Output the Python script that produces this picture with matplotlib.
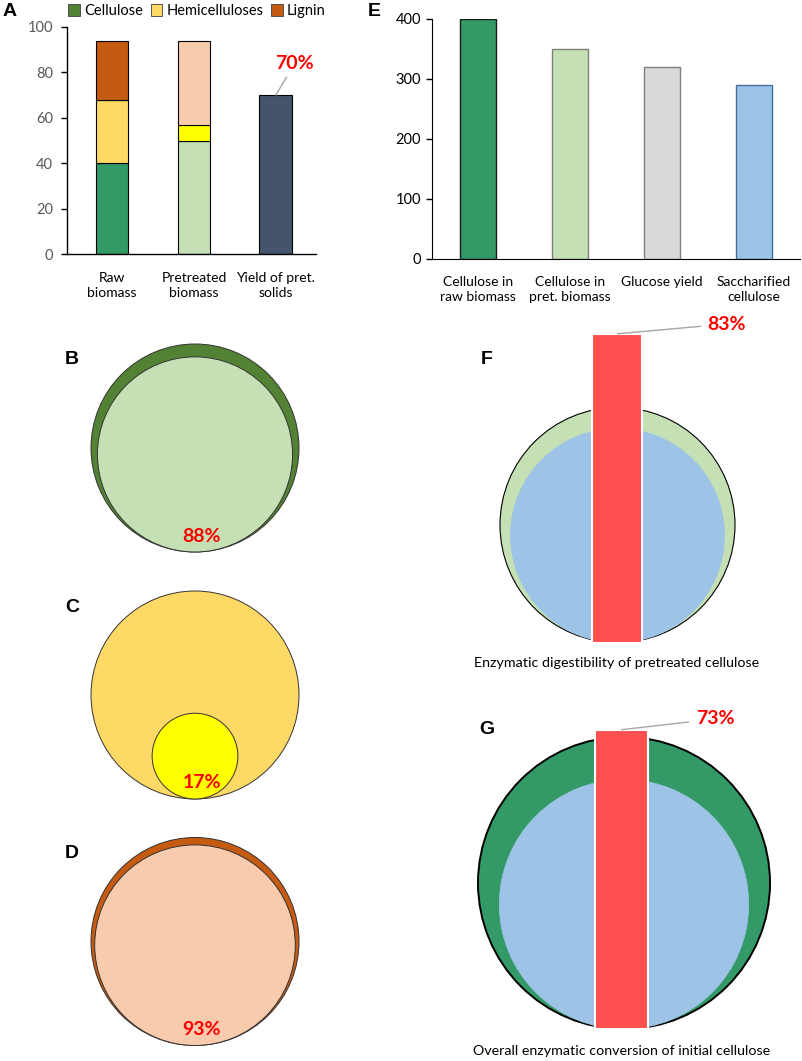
import numpy as np
import matplotlib
matplotlib.use("Agg")
import matplotlib.pyplot as plt
from matplotlib.patches import Circle, Patch

plt.rcParams['font.family'] = ['Lato', 'DejaVu Sans']

# ---- data ----
comp_names = ['Cellulose', 'Hemicelluloses', 'Lignin']
a_labels = ['Raw\nbiomass', 'Pretreated\nbiomass', 'Yield of pret.\nsolids']
raw_comp = [40, 28, 26]
pret_comp = [50, 7, 37]
yield_solids = 70

e_labels = ['Cellulose in\nraw biomass', 'Cellulose in\npret. biomass', 'Glucose yield', 'Saccharified\ncellulose']
e_values = [400, 350, 320, 290]

circle_letters = ['B', 'C', 'D']
circle_pcts = [88, 17, 93]
digest_pct = 83
overall_pct = 73

# colours
raw_colors = ['#339966', '#FFD966', '#C55A11']
pret_colors = ['#C5E0B4', '#FFFF00', '#F8CBAD']
legend_colors = ['#548235', '#FFD966', '#C55A11']
yield_color = '#44546A'
e_colors = ['#339966', '#C5E0B4', '#D9D9D9', '#9DC3E6']
e_edges = ['#1A1A1A', '#7F7F7F', '#7F7F7F', '#41719C']
circ_outer = ['#548235', '#FFD966', '#C55A11']
circ_inner = ['#C5E0B4', '#FFFF00', '#F8CBAD']
red = '#FF5050'
pct_red = '#FF0000'

W, H = 803, 1061
fig = plt.figure(figsize=(W / 100, H / 100), dpi=100)


def px_axes(left, top, right, bottom):
    return fig.add_axes([left / W, 1 - bottom / H, (right - left) / W, (bottom - top) / H])


# ---- panel A ----
axA = px_axes(67, 27, 316, 254)
x = np.arange(len(a_labels))
bw = 0.4
bottom = 0
for i in range(3):
    axA.bar(x[0], raw_comp[i], bw, bottom=bottom, color=raw_colors[i], edgecolor='black', linewidth=0.8)
    bottom += raw_comp[i]
bottom = 0
for i in range(3):
    axA.bar(x[1], pret_comp[i], bw, bottom=bottom, color=pret_colors[i], edgecolor='black', linewidth=0.8)
    bottom += pret_comp[i]
axA.bar(x[2], yield_solids, bw, color=yield_color, edgecolor='black', linewidth=0.8)
axA.set_xlim(-0.55, 2.49)
axA.set_ylim(0, 100)
axA.set_yticks(range(0, 101, 20))
axA.set_xticks(x)
axA.set_xticklabels(a_labels, fontsize=10, linespacing=1.3)
axA.tick_params(axis='x', length=0, pad=13, colors='black')
axA.tick_params(axis='y', length=4, width=1, labelsize=10.5, labelcolor='#595959', pad=6)
for s in ['top', 'right']:
    axA.spines[s].set_visible(False)
for s in ['left', 'bottom']:
    axA.spines[s].set_linewidth(1)
axA.annotate(f'{yield_solids}%', xy=(x[2], yield_solids), xytext=(2.23, 84),
             ha='center', va='center', fontsize=14, fontweight='bold', color=pct_red,
             arrowprops=dict(arrowstyle='-', color='#A6A6A6', lw=1, shrinkA=2, shrinkB=0))

handles = [Patch(facecolor=c, edgecolor='#404040', linewidth=0.6) for c in legend_colors]
fig.legend(handles, comp_names, loc='center', bbox_to_anchor=(197 / W, 1 - 11 / H), ncol=3,
           frameon=False, fontsize=10.5, handlelength=0.8, handleheight=0.8,
           handletextpad=0.3, columnspacing=0.5, borderaxespad=0)

# ---- panel E ----
axE = px_axes(432, 19, 800, 259)
xe = np.arange(len(e_labels))
axE.bar(xe, e_values, 0.4, color=e_colors, edgecolor=e_edges, linewidth=1)
axE.set_xlim(-0.5, 3.5)
axE.set_ylim(0, 400)
axE.set_yticks(range(0, 401, 100))
axE.set_xticks(xe)
axE.set_xticklabels(e_labels, fontsize=10, linespacing=1.3)
axE.tick_params(axis='x', length=0, pad=12)
axE.tick_params(axis='y', length=4, width=1, labelsize=10.5, pad=4)
for s in ['top', 'right']:
    axE.spines[s].set_visible(False)

# ---- circle panels, drawn on a pixel overlay ----
ov = px_axes(0, 0, W, H)
ov.set_xlim(0, W)
ov.set_ylim(H, 0)
ov.axis('off')
ov.patch.set_alpha(0)


def nested(cx, cy, R, outer, inner, frac, edge_outer='#333333', lw_outer=0.7, edge_inner='#333333', lw_inner=0.7):
    ov.add_patch(Circle((cx, cy), R, facecolor=outer, edgecolor=edge_outer, linewidth=lw_outer, zorder=2))
    r = R * np.sqrt(frac)
    ov.add_patch(Circle((cx, cy + R - r), r, facecolor=inner, edgecolor=edge_inner, linewidth=lw_inner, zorder=3))


def letter(xp, yp, s):
    ov.text(xp, yp, s, ha='center', va='center', fontsize=14, fontweight='bold',
            family='Liberation Sans', zorder=5)


centres_y = [448, 695, 941.5]
for let, pct, cy, co, ci in zip(circle_letters, circle_pcts, centres_y, circ_outer, circ_inner):
    nested(195, cy, 104, co, ci, pct / 100)
    ov.text(202, cy + 104 - 16, f'{pct}%', ha='center', va='center', fontsize=14,
            fontweight='bold', color=pct_red, zorder=5)
    letter(72, cy - 88, let)

# panel F
fcx, fcy, fR = 617.5, 525, 117.5
nested(fcx, fcy, fR, '#C5E0B4', '#9DC3E6', digest_pct / 100, edge_outer='black', lw_outer=0.8,
       edge_inner='#9DC3E6', lw_inner=0.5)
ov.bar(fcx, -digest_pct * 3.72, 50, bottom=fcy + fR, color=red, edgecolor='white', linewidth=1.5, zorder=4)
ov.annotate(f'{digest_pct}%', xy=(fcx, fcy + fR - digest_pct * 3.72), xytext=(727, 324),
            ha='center', va='center', fontsize=14, fontweight='bold', color=pct_red, zorder=5,
            arrowprops=dict(arrowstyle='-', color='#A6A6A6', lw=1, shrinkA=3, shrinkB=0))
ov.text(617, 663, 'Enzymatic digestibility of pretreated cellulose', ha='center', va='center', fontsize=10.3)
letter(487, 360, 'F')

# panel G
gcx, gcy, gR = 624, 883, 146
nested(gcx, gcy, gR, '#339966', '#9DC3E6', overall_pct / 100, edge_outer='black', lw_outer=1.4,
       edge_inner='#9DC3E6', lw_inner=0.5)
ov.bar(621.5, -overall_pct * 4.1, 53, bottom=gcy + gR, color=red, edgecolor='white', linewidth=1.5, zorder=4)
ov.annotate(f'{overall_pct}%', xy=(621.5, gcy + gR - overall_pct * 4.1), xytext=(715, 719),
            ha='center', va='center', fontsize=14, fontweight='bold', color=pct_red, zorder=5,
            arrowprops=dict(arrowstyle='-', color='#A6A6A6', lw=1, shrinkA=3, shrinkB=0))
ov.text(622, 1051, 'Overall enzymatic conversion of initial cellulose', ha='center', va='center', fontsize=10.3)
letter(487, 730, 'G')

# panel letters A / E
letter(10, 12, 'A')
letter(374, 12, 'E')

fig.savefig('out.png', dpi=100)
